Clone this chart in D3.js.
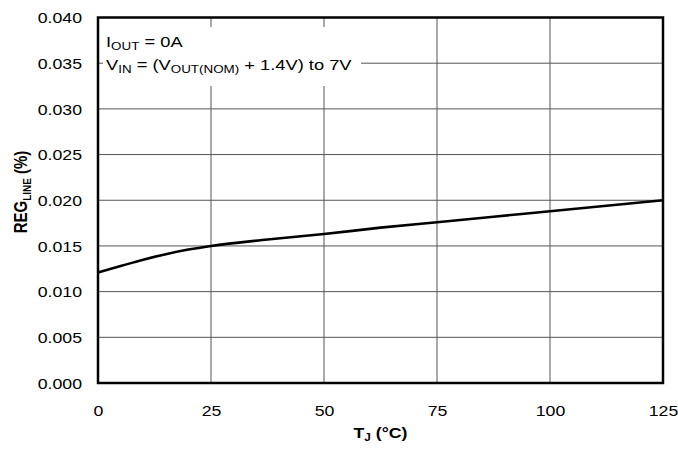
<!DOCTYPE html>
<html>
<head>
<meta charset="utf-8">
<script src="https://cdn.jsdelivr.net/npm/d3@7"></script>
<style>
  body { margin: 0; background: #fff; }
  text { font-family: "Liberation Sans", Arial, sans-serif; }
</style>
</head>
<body>
<div id="chart"></div>
<script>
// curve
const tempC = [0, 5, 10, 15, 20, 25, 37.5, 50, 62.5, 75, 87.5, 100, 112.5, 125];
const regLine = [0.0121, 0.0128, 0.0135, 0.0141, 0.0146, 0.0150, 0.0157, 0.0163, 0.0170, 0.0176, 0.0182, 0.0188, 0.0194, 0.0200];
const xTicks = [0, 25, 50, 75, 100, 125];
const yTicks = [0, 0.005, 0.010, 0.015, 0.020, 0.025, 0.030, 0.035, 0.040];

const width = 678, height = 454;
const plotLeft = 98, plotRight = 663, plotTop = 17.5, plotBottom = 383;
const stretch = 1.18; // the original text is a bit wide

const x = d3.scaleLinear().domain([0, 125]).range([plotLeft, plotRight]);
const y = d3.scaleLinear().domain([0, 0.040]).range([plotBottom, plotTop]);

const svg = d3.select("#chart").append("svg")
	.attr("width", width)
	.attr("height", height);

//grid
svg.append("g")
	.selectAll("line")
	.data(xTicks)
	.enter()
	.append("line")
	.attr("x1", d => x(d)).attr("x2", d => x(d))
	.attr("y1", plotTop).attr("y2", plotBottom)
	.attr("stroke", "#555")
	.attr("stroke-width", 1);

svg.append("g")
	.selectAll("line")
	.data(yTicks)
	.enter()
	.append("line")
	.attr("x1", plotLeft).attr("x2", plotRight)
	.attr("y1", d => y(d)).attr("y2", d => y(d))
	.attr("stroke", "#555")
	.attr("stroke-width", 1);

// white box behind the conditions text
svg.append("rect")
	.attr("x", 103)
	.attr("y", 27)
	.attr("width", 258)
	.attr("height", 59)
	.attr("fill", "#fff");

const note = svg.append("g")
	.attr("font-size", 15)
	.attr("fill", "#000");

const n1 = note.append("text")
	.attr("transform", "translate(106,47) scale(1.22,1)");
n1.append("tspan").text("I");
n1.append("tspan").attr("font-size", 11).attr("dy", 3).text("OUT");
n1.append("tspan").attr("dy", -3).text(" = 0A");

const n2 = note.append("text")
	.attr("transform", "translate(106,70) scale(1.22,1)");
n2.append("tspan").text("V");
n2.append("tspan").attr("font-size", 11).attr("dy", 3).text("IN");
n2.append("tspan").attr("dy", -3).text(" = (V");
n2.append("tspan").attr("font-size", 11).attr("dy", 3).text("OUT(NOM)");
n2.append("tspan").attr("dy", -3).text(" + 1.4V) to 7V");

// axes
const xAxis = svg.append("g")
	.attr("transform", "translate(0," + plotBottom + ")")
	.call(d3.axisBottom(x).tickValues(xTicks).tickSize(0).tickPadding(0));
xAxis.select(".domain").remove();
xAxis.selectAll("text")
	.attr("y", null)
	.attr("dy", null)
	.attr("font-size", 15)
	.attr("font-family", "Liberation Sans, Arial, sans-serif")
	.attr("fill", "#000")
	.attr("transform", "translate(0,33) scale(" + stretch + ",1)");

const yAxis = svg.append("g")
	.attr("transform", "translate(" + plotLeft + ",0)")
	.call(d3.axisLeft(y).tickValues(yTicks).tickSize(0).tickFormat(d3.format(".3f")));
yAxis.select(".domain").remove();
yAxis.selectAll("text")
	.attr("x", null)
	.attr("dy", "0.35em")
	.attr("font-size", 15)
	.attr("font-family", "Liberation Sans, Arial, sans-serif")
	.attr("fill", "#000")
	.attr("transform", "translate(-16,0) scale(" + stretch + ",1)");

// frame
svg.append("rect")
	.attr("x", plotLeft)
	.attr("y", plotTop)
	.attr("width", plotRight - plotLeft)
	.attr("height", plotBottom - plotTop)
	.attr("fill", "none")
	.attr("stroke", "#000")
	.attr("stroke-width", 2.5);

// curve
const line = d3.line()
	.x((d, i) => x(tempC[i]))
	.y(d => y(d))
	.curve(d3.curveMonotoneX);

svg.append("path")
	.datum(regLine)
	.attr("d", line)
	.attr("fill", "none")
	.attr("stroke", "#000")
	.attr("stroke-width", 2.6);

// axis titles
const xt = svg.append("text")
	.attr("text-anchor", "middle")
	.attr("font-size", 15)
	.attr("font-weight", "bold")
	.attr("transform", "translate(" + ((plotLeft + plotRight) / 2) + ",438) scale(" + stretch + ",1)");
xt.append("tspan").text("T");
xt.append("tspan").attr("font-size", 10).attr("dy", 3).text("J");
xt.append("tspan").attr("dy", -3).text(" (°C)");

const yt = svg.append("text")
	.attr("text-anchor", "middle")
	.attr("font-size", 15)
	.attr("font-weight", "bold")
	.attr("transform", "translate(27,192) rotate(-90) scale(1," + stretch + ")");
yt.append("tspan").text("REG");
yt.append("tspan").attr("font-size", 10).attr("dy", 3).text("LINE");
yt.append("tspan").attr("dy", -3).text(" (%)");
</script>
</body>
</html>
